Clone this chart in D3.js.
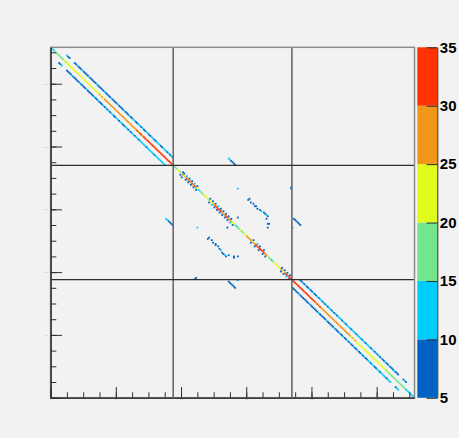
<!DOCTYPE html>
<html>
<head>
<meta charset="utf-8">
<script src="https://cdn.jsdelivr.net/npm/d3@7"></script>
<style>
body { margin: 0; background: #f2f2f2; }
svg { display: block; }
</style>
</head>
<body>
<script>
var width = 459, height = 438;

// axis setup (both axes share the same binning)
var nBins = 279;
var sectionEdges = [94, 185];
var majorTicks = [0, 50, 100, 150, 200, 250];
var axisLabels = ["0", "50", "100", "150", "200", "250"];
var minorTicks = d3.range(0, 279, 12.5);

// z palette
var zLevels = [5, 10, 15, 20, 25, 30, 35];
var zColors = ["#0063c3", "#00ccfe", "#73e68d", "#e1fc1c", "#f0971a", "#fe3300"];

// main diagonal, one value per bin (row = col)
var diagSec1 = [12,13,14,16,17,17,18,18,19,19, 20,19,20,20,21,20,21,21,22,21,
  22,22,21,22,23,22,23,23,22,23, 23,24,23,24,24,23,24,25,24,25,
  24,25,26,25,26,26,25,26,27,26, 27,26,27,27,28,27,28,27,28,28,
  29,28,29,29,28,29,30,29,30,30, 29,30,31,30,30,31,31,30,31,32,
  31,32,31,32,32,33,32,33,32,33, 33,32,33,34];
var diagSec2 = [12,17,18,22,20,16,24,27,22,29, 31,26,30,28,32,27,30,26,22,14,
  16,18,19,21,22,23,21,19,22,24, 26,28,30,31,32,33,31,29,27,29,
  31,30,28,29,27,24,20,16,14,17, 19,20,18,17,21,23,25,27,28,26,
  24,27,29,31,32,33,31,32,33,30, 28,26,24,19,15,12,16,21,23,22,
  20,24,27,25,22,28,30,32,31,33, 32];
var diagSec3 = [34,33,32,33,33,32,33,32,32,31, 32,31,31,30,31,31,30,30,29,30,
  29,30,29,29,28,29,28,28,27,28, 27,28,27,27,26,27,26,26,27,26,
  25,26,25,25,26,24,25,24,25,24, 23,24,24,23,24,23,23,22,23,22,
  22,23,22,21,22,21,22,21,20,21, 20,20,19,20,19,19,18,19,18,17,
  17,17,16,16,15,16,15,14,14,13, 13,12,12,11];

// side bands, first block (col = row + 6 above, col = row - 6 below)
var sec1UpperShort = [11,9,8];
var sec1Upper = [9,8,10,7,8,9,11,8,7,9, 8,10,8,7,9,8,8,11,9,7,
  8,9,8,10,8,7,9,8,11,8, 9,7,8,10,9,8,7,9,11,8,
  9,8,12,9,8,10,11,9,8,12, 10,9,11,8,9,12,10,8,9,11,
  12,9,8,10,12,11,9,8,11,10, 12,9,11,8,10,9];
var sec1LowerShort = [9,8,10];
var sec1Lower = [8,9,7,8,10,8,9,7,8,9, 10,8,7,9,8,11,8,9,7,8,
  9,10,8,9,11,8,7,9,10,8, 11,9,12,8,10,11,9,8,12,10,
  9,11,10,8,9,12,11,9,10,8, 11,12,9,10,11,8,12,11,10,12,
  11,9,12,13,10,11,12,9,11,12, 13,11,12,10,12,11];

// side bands, last block
var sec3Upper = [9,8,10,9,11,8,9,10,8,9, 11,9,8,10,9,12,10,9,11,8,
  10,9,11,12,9,10,8,11,9,10, 12,11,9,10,11,9,12,10,11,9,
  10,12,11,9,11,10,12,9,11,10, 9,11,10,12,9,10,11,9,10,8,
  11,9,10,8,9,11,8,9,10,8, 9,8,10,9,8,7];
var sec3UpperShort = [8,10,9];
var sec3Lower = [8,7,9,8,8,10,7,9,8,8, 9,7,8,10,8,9,7,8,9,8,
  10,8,9,7,8,9,11,8,9,8, 7,9,10,8,9,8,11,9,8,10,
  9,8,11,9,10,8,9,12,8,9, 10,9,8,11,9,10,8,9,11,10,
  9,10,12,9,8,10,11,9,10,12, 11,10,9,12,10,11];
var sec3LowerShort = [9,11,10];

// short off-diagonal dashes in the middle row/column of blocks
var dashNear = [11,10,9,8,8,7];
var dashFar = [8,9,8,7,9,8];

// isolated cells [col, row from top, value]
var scatter = [
  [101,99,7],[99,101,8],[103,105,8],[104,102,11],[105,107,6],[106,104,9],[107,109,7],[108,106,8],
  [109,111,6],[110,108,12],[111,113,7],[112,110,6],[102,100,9],[100,103,7],
  [121,123,8],[122,120,7],[123,125,11],[124,122,9],[125,127,6],[126,124,8],[127,129,7],[128,126,12],
  [129,131,9],[130,128,6],[131,133,8],[132,130,7],[133,135,6],[134,132,9],[135,137,7],[136,134,8],
  [137,139,11],[138,136,6],[139,141,7],
  [153,155,8],[155,153,7],[156,158,9],[158,156,11],[159,161,7],[160,158,6],[162,164,8],[163,161,9],[164,166,6],
  [176,178,9],[177,175,7],[178,180,8],[179,177,6],[180,182,12],[181,179,9],[182,184,7],[183,181,8],
  [143,112,11],[112,143,11],[143,135,7],[135,143,7],[143,166,9],[166,143,9],[140,167,7],[167,140,7],
  [184,111,7],[184,112,8],[111,183,7],[110,184,8],[143,185,12],[185,143,12],
  [151,121,8],[152,120,9],[153,123,7],[155,124,8],[156,126,6],[157,126,9],[158,128,7],[160,129,8],
  [161,130,10],[163,131,7],[164,132,9],[165,133,12],[166,134,8],[165,136,7],[166,140,8],
  [121,151,8],[120,152,9],[123,153,7],[124,155,8],[126,156,6],[126,157,9],[128,158,7],[129,160,8],
  [130,161,10],[131,163,7],[132,164,9],[133,165,12],[134,166,8],[136,165,7],[140,166,8]
];

var cells = [];
function addRun(col0, row0, values) { //diagonal run of cells going down-right
  values.forEach(function(v, k) { cells.push({col: col0 + k, row: row0 + k, v: v}); });
}
addRun(0, 0, diagSec1);
addRun(94, 94, diagSec2);
addRun(185, 185, diagSec3);
addRun(12, 6, sec1UpperShort);
addRun(18, 12, sec1Upper);
addRun(6, 12, sec1LowerShort);
addRun(12, 18, sec1Lower);
addRun(191, 185, sec3Upper);
addRun(270, 264, sec3UpperShort);
addRun(185, 191, sec3Lower);
addRun(264, 270, sec3LowerShort);
addRun(136, 88, dashNear);
addRun(88, 136, dashNear);
addRun(186, 136, dashFar);
addRun(136, 186, dashFar);
scatter.forEach(function(d) { cells.push({col: d[0], row: d[1], v: d[2]}); });

var x = d3.scaleLinear().domain([0, nBins]).range([50.6, 414.5]);
var y = d3.scaleLinear().domain([0, nBins]).range([397.7, 47.3]);
var z = d3.scaleLinear().domain([5, 35]).range([397.8, 47.3]);
var color = d3.scaleThreshold().domain(zLevels.slice(1, -1)).range(zColors);

var svg = d3.select("body").append("svg").attr("width", width).attr("height", height);
svg.append("rect").attr("width", width).attr("height", height).attr("fill", "#f2f2f2");

//histogram cells, row counted from the top
svg.append("g").selectAll("rect")
  .data(cells.filter(function(d) { return d.v >= zLevels[0]; }))
  .enter().append("rect")
  .attr("x", function(d) { return x(d.col) - 0.2; })
  .attr("y", function(d) { return y(nBins - d.row) - 0.2; })
  .attr("width", function(d) { return x(d.col + 1) - x(d.col) + 0.5; })
  .attr("height", function(d) { return y(nBins - d.row - 1) - y(nBins - d.row) + 0.5; })
  .attr("fill", function(d) { return color(d.v); });

//block separators
svg.append("g").selectAll("line").data(sectionEdges).enter().append("line")
  .attr("x1", function(d) { return x(d); }).attr("x2", function(d) { return x(d); })
  .attr("y1", y(0)).attr("y2", y(nBins))
  .attr("stroke", "#6a6a6a").attr("stroke-width", 1.6);
svg.append("g").selectAll("line").data(sectionEdges).enter().append("line")
  .attr("y1", function(d) { return y(d); }).attr("y2", function(d) { return y(d); })
  .attr("x1", x(0)).attr("x2", x(nBins))
  .attr("stroke", "#2e2e2e").attr("stroke-width", 1.2);

//frame
svg.append("rect")
  .attr("x", x(0)).attr("y", y(nBins))
  .attr("width", x(nBins) - x(0)).attr("height", y(0) - y(nBins))
  .attr("fill", "none").attr("stroke", "#8c8c8c").attr("stroke-width", 1.5);

function styleAxis(g) {
  g.select(".domain").attr("stroke", "#303030");
  g.selectAll(".tick line").attr("stroke", "#303030");
  g.selectAll("text").attr("font-size", 2).attr("fill", "#b0b0b0");
}

svg.append("g").attr("transform", "translate(0," + y(0) + ")")
  .call(d3.axisBottom(x).tickValues(minorTicks).tickSize(-5.4).tickSizeOuter(0).tickFormat(""))
  .call(styleAxis);
svg.append("g").attr("transform", "translate(0," + y(0) + ")")
  .call(d3.axisBottom(x).tickValues(majorTicks).tickSize(-10.7).tickSizeOuter(0).tickPadding(1)
    .tickFormat(function(d, i) { return axisLabels[i]; }))
  .call(styleAxis);
svg.append("g").attr("transform", "translate(" + x(0) + ",0)")
  .call(d3.axisLeft(y).tickValues(minorTicks).tickSize(-5.7).tickSizeOuter(0).tickFormat(""))
  .call(styleAxis);
svg.append("g").attr("transform", "translate(" + x(0) + ",0)")
  .call(d3.axisLeft(y).tickValues(majorTicks).tickSize(-11.5).tickSizeOuter(0).tickPadding(3)
    .tickFormat(function(d, i) { return axisLabels[i]; }))
  .call(styleAxis);

//palette
var pal = svg.append("g");
pal.selectAll("rect").data(zColors).enter().append("rect")
  .attr("x", 417.3).attr("width", 20)
  .attr("y", function(d, i) { return z(zLevels[i + 1]); })
  .attr("height", function(d, i) { return z(zLevels[i]) - z(zLevels[i + 1]); })
  .attr("fill", function(d) { return d; });

var zAxis = svg.append("g").attr("transform", "translate(437.3,0)")
  .call(d3.axisRight(z).tickValues(zLevels).tickSize(-10.7).tickSizeOuter(0).tickPadding(2.5));
zAxis.select(".domain").attr("stroke", "#2a2a2a");
zAxis.selectAll(".tick line").attr("stroke", "#2a2a2a");
zAxis.selectAll("text")
  .attr("font-family", "Liberation Sans, Arial, sans-serif")
  .attr("font-weight", "bold").attr("font-size", 15).attr("fill", "#000");
</script>
</body>
</html>
